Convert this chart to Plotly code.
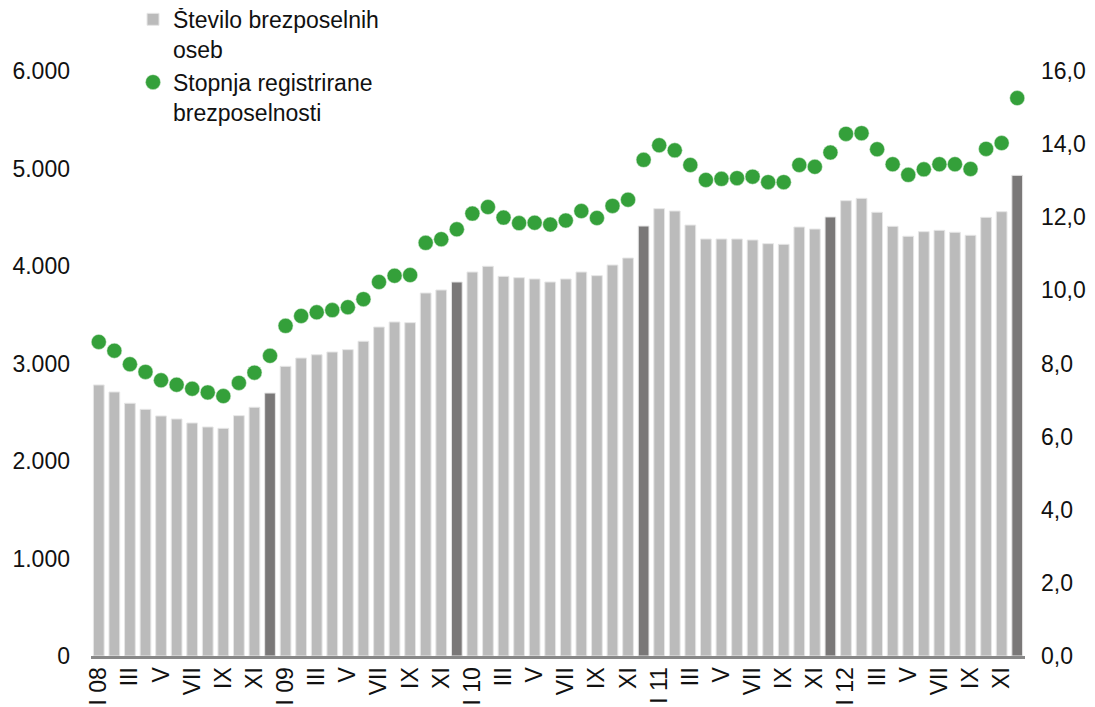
import plotly.graph_objects as go

# monthly periods Jan 2008 - Dec 2012
periods = [f"{y}-{m:02d}" for y in range(2008, 2013) for m in range(1, 13)]

tick_periods = periods[::2]
tick_labels = ["I 08", "III", "V", "VII", "IX", "XI",
               "I 09", "III", "V", "VII", "IX", "XI",
               "I 10", "III", "V", "VII", "IX", "XI",
               "I 11", "III", "V", "VII", "IX", "XI",
               "I 12", "III", "V", "VII", "IX", "XI"]

# Število brezposelnih oseb
unemployed = [2780, 2708, 2592, 2530, 2462, 2431, 2390, 2349, 2335, 2465, 2551, 2697,
              2971, 3056, 3090, 3118, 3142, 3228, 3374, 3426, 3419, 3723, 3754, 3836,
              3938, 3997, 3894, 3880, 3867, 3836, 3867, 3938, 3901, 4010, 4082, 4410,
              4588, 4564, 4420, 4277, 4277, 4277, 4267, 4229, 4222, 4400, 4379, 4503,
              4670, 4694, 4551, 4407, 4305, 4352, 4366, 4346, 4315, 4499, 4557, 4930]

# Stopnja registrirane brezposelnosti (%)
rate = [8.59, 8.35, 7.98, 7.77, 7.54, 7.42, 7.31, 7.21, 7.11, 7.47, 7.75, 8.21,
        9.03, 9.30, 9.40, 9.46, 9.54, 9.76, 10.23, 10.40, 10.42, 11.30, 11.40, 11.67,
        12.10, 12.28, 11.99, 11.84, 11.85, 11.80, 11.91, 12.17, 11.98, 12.31, 12.48, 13.57,
        13.97, 13.83, 13.43, 13.02, 13.05, 13.07, 13.11, 12.96, 12.96, 13.43, 13.38, 13.77,
        14.28, 14.30, 13.86, 13.45, 13.16, 13.31, 13.45, 13.45, 13.32, 13.87, 14.03, 15.26]

LIGHT = "#bbbbbb"
DARK = "#7a7878"
GREEN = "#34a03a"

# December bars are darker
bar_colors = [DARK if p.endswith("-12") else LIGHT for p in periods]

fig = go.Figure()
fig.add_trace(go.Bar(
    x=periods, y=unemployed,
    name="Število brezposelnih<br>oseb",
    marker=dict(color=bar_colors, line=dict(color="#e6e6e6", width=1)),
))
fig.add_trace(go.Scatter(
    x=periods, y=rate, yaxis="y2",
    mode="markers",
    name="Stopnja registrirane<br>brezposelnosti",
    marker=dict(color=GREEN, size=15, line=dict(color="#d8ecd8", width=0.5)),
))

# page body adds an 8px offset, so the figure is 8px smaller than the window
fig.update_layout(
    width=1087, height=699,
    paper_bgcolor="white", plot_bgcolor="white",
    font=dict(family="Liberation Sans, Arial, sans-serif", size=23, color="#111111"),
    separators=",.",
    bargap=0.31,
    margin=dict(l=83, r=70, t=63, b=51, autoexpand=False),
    xaxis=dict(
        type="category", range=[-0.5, len(periods) - 0.5],
        tickmode="array", tickvals=tick_periods, ticktext=tick_labels,
        tickangle=-90, ticks="",
        showline=True, linecolor="#888888", linewidth=3,
        showgrid=False, zeroline=False, automargin=False,
        ticklabelstandoff=-1,
    ),
    yaxis=dict(
        range=[0, 6000], dtick=1000, tickformat=",d",
        showgrid=False, zeroline=False, showline=False, ticks="",
        automargin=False, ticklabelstandoff=20,
    ),
    yaxis2=dict(
        range=[0, 16], dtick=2, tickformat=".1f",
        overlaying="y", side="right",
        showgrid=False, zeroline=False, showline=False, ticks="",
        automargin=False, ticklabelstandoff=15,
    ),
    legend=dict(
        x=0.045, y=1.125, xanchor="left", yanchor="top",
        valign="top", itemwidth=30, tracegroupgap=0,
        bgcolor="rgba(0,0,0,0)",
        font=dict(size=23),
    ),
)

fig.write_html("out.html")
